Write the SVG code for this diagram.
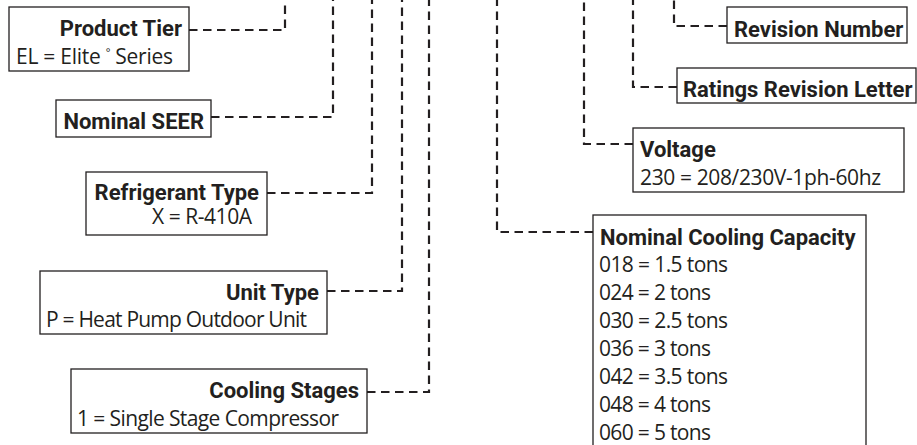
<svg xmlns="http://www.w3.org/2000/svg" width="917" height="445" viewBox="0 0 917 445">
<style>
.box{fill:#fff;stroke:#231f20;stroke-width:1.3}
.t{font-family:Roboto,"Liberation Sans",sans-serif;font-weight:700;font-size:22px;fill:#231f20}
.v{font-family:"Open Sans","Liberation Sans",sans-serif;font-size:21px;fill:#231f20}
.e{text-anchor:end}
.c{fill:none;stroke:#231f20;stroke-width:2.2;stroke-dasharray:8.5 5.5}
</style>
<rect width="917" height="445" fill="#fff"/>
<g id="connectors">
<path class="c" d="M189,30 H285 V0"/>
<path class="c" d="M211,117 H333 V0"/>
<path class="c" d="M267,193 H372 V0"/>
<path class="c" d="M327,291 H402 V0"/>
<path class="c" d="M367,392 H429 V0"/>
<path class="c" d="M593,232 H497 V0"/>
<path class="c" d="M633,144 H584 V0"/>
<path class="c" d="M677,87 H633 V0"/>
<path class="c" d="M727,26 H674 V0"/>
</g>
<g id="product-tier">
<rect class="box" x="9" y="7" width="180" height="64"/>
<text class="t e" x="182" y="36">Product Tier</text>
<text class="v" x="16" y="64" textLength="157">EL = Elite <tspan font-size="11" dy="-8">°</tspan><tspan dy="8"> Series</tspan></text>
</g>
<g id="nominal-seer">
<rect class="box" x="56" y="100" width="155" height="37"/>
<text class="t e" x="204" y="129">Nominal SEER</text>
</g>
<g id="refrigerant-type">
<rect class="box" x="86" y="172" width="181" height="63"/>
<text class="t e" x="259" y="200">Refrigerant Type</text>
<text class="v" x="152" y="224" textLength="100">X = R-410A</text>
</g>
<g id="unit-type">
<rect class="box" x="40" y="271" width="287" height="63"/>
<text class="t e" x="319" y="300">Unit Type</text>
<text class="v" x="46" y="327" textLength="261">P = Heat Pump Outdoor Unit</text>
</g>
<g id="cooling-stages">
<rect class="box" x="71" y="369" width="296" height="64"/>
<text class="t e" x="359" y="398">Cooling Stages</text>
<text class="v" x="77" y="426" textLength="262">1 = Single Stage Compressor</text>
</g>
<g id="revision-number">
<rect class="box" x="727" y="7" width="180" height="36"/>
<text class="t" x="734" y="37">Revision Number</text>
</g>
<g id="ratings-revision-letter">
<rect class="box" x="677" y="68" width="239" height="35"/>
<text class="t" x="683" y="97">Ratings Revision Letter</text>
</g>
<g id="voltage">
<rect class="box" x="633" y="128" width="271" height="64"/>
<text class="t" x="640" y="157">Voltage</text>
<text class="v" x="640" y="185" textLength="241">230 = 208/230V-1ph-60hz</text>
</g>
<g id="nominal-cooling-capacity">
<rect class="box" x="593" y="215" width="273" height="240"/>
<text class="t" x="600" y="245">Nominal Cooling Capacity</text>
<text class="v" x="599" y="272" textLength="129">018 = 1.5 tons</text>
<text class="v" x="599" y="300" textLength="112">024 = 2 tons</text>
<text class="v" x="599" y="328" textLength="129">030 = 2.5 tons</text>
<text class="v" x="599" y="356" textLength="112">036 = 3 tons</text>
<text class="v" x="599" y="384" textLength="129">042 = 3.5 tons</text>
<text class="v" x="599" y="412" textLength="112">048 = 4 tons</text>
<text class="v" x="599" y="440" textLength="112">060 = 5 tons</text>
</g>
</svg>
